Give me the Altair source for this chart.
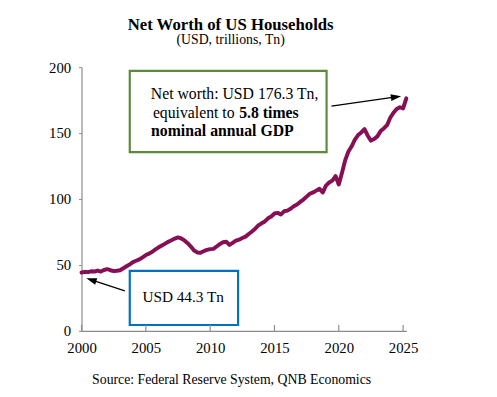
import altair as alt
import pandas as pd

FONT = "Liberation Serif, Times New Roman, serif"
LINE_COLOR = "#870F54"
AXIS_COLOR = "#8C8C8C"

# Household net worth, USD trillions, quarterly 2000Q1 .. 2025Q2
net_worth = [
    44.3, 44.8, 44.6, 45.2,   # 2000
    45.0, 45.8, 45.0, 46.2,   # 2001
    46.8, 46.0, 45.3, 45.6,   # 2002
    46.0, 47.5, 49.0, 50.5,   # 2003
    52.2, 53.2, 54.2, 55.8,   # 2004
    57.5, 58.6, 60.0, 61.8,   # 2005
    63.4, 64.8, 66.2, 67.6,   # 2006
    68.8, 70.0, 70.9, 70.1,   # 2007
    68.6, 66.5, 64.0, 61.0,   # 2008
    59.5, 59.2, 60.5, 61.4,   # 2009
    62.0, 62.2, 64.0, 65.8,   # 2010
    67.2, 67.6, 65.2, 66.8,   # 2011
    68.4, 69.2, 70.4, 71.5,   # 2012
    73.5, 75.4, 77.5, 80.0,   # 2013
    81.6, 83.0, 85.4, 86.8,   # 2014
    89.0, 89.5, 88.3, 90.7,   # 2015
    91.2, 92.6, 94.5, 95.8,   # 2016
    97.8, 99.6, 101.8, 104.0, # 2017
    105.0, 106.4, 107.8, 104.9,  # 2018
    110.2, 112.5, 114.0, 117.4,  # 2019
    111.0, 120.0, 129.5, 136.0,  # 2020
    140.0, 145.0, 148.5, 150.5,  # 2021
    153.0, 148.0, 144.3, 145.5,  # 2022
    147.5, 151.5, 153.5, 156.0,  # 2023
    161.6, 165.4, 168.3, 169.6,  # 2024
    168.7, 176.3,                # 2025
]
start_year = 2000
x_ticks = [2000, 2005, 2010, 2015, 2020, 2025]
y_ticks = [0, 25, 50, 75, 100, 125, 150, 175, 200]

title_text = "Net Worth of US Households"
subtitle_text = "(USD, trillions, Tn)"
source_text = "Source: Federal Reserve System, QNB Economics"

# annotation boxes (in data units)
box_x = [2003.75, 2003.75]
box_x2 = [2019.05, 2012.17]
box_y = [135.5, 4.5]
box_y2 = [197.2, 45.5]
box_colors = ["#5A8A3A", "#0070C0"]

# annotation text pieces
reg_center_text = ["Net worth: USD 176.3 Tn,", "USD 44.3 Tn"]
reg_center_x = [2011.9, 2007.9]
reg_center_y = [175.8, 21.9]
reg_center_size = [16, 15.5]

bold_center_text = ["nominal annual GDP"]
bold_center_x = [2010.95]
bold_center_y = [147.8]

reg_right_text = ["equivalent to"]
reg_right_x = [2011.9]
reg_right_y = [161.6]

bold_left_text = ["5.8 times"]
bold_left_x = [2012.26]
bold_left_y = [161.6]

# arrows: tail -> head centre, and head rotation
arrow_x = [2003.37, 2019.43]
arrow_y = [30.3, 170.4]
arrow_x2 = [2000.76, 2024.45]
arrow_y2 = [38.7, 177.4]
arrow_angle = [288.3, 81.9]

df = pd.DataFrame({
    "t": [start_year + i / 4 for i in range(len(net_worth))],
    "v": net_worth,
})

xscale = alt.Scale(domain=[2000, 2025.25], nice=False, zero=False)
yscale = alt.Scale(domain=[0, 200], nice=False, zero=True)

line = alt.Chart(df).mark_line(
    color=LINE_COLOR, strokeWidth=4, strokeJoin="round", strokeCap="round"
).encode(
    x=alt.X("t:Q", scale=xscale, axis=alt.Axis(
        values=x_ticks, format="d", ticks=False, tickSize=0, labelPadding=10,
        labelFlush=False, labelOverlap=False,
        grid=False, domainColor=AXIS_COLOR, domainWidth=1.2,
        labelFont=FONT, labelFontSize=15, labelColor="black",
        title=source_text, titleFont=FONT, titleFontSize=14,
        titleFontWeight="normal", titleColor="black",
        titleX=152, titleY=53, titleAlign="center", titleBaseline="alphabetic",
        titleAnchor="start",
    )),
    y=alt.Y("v:Q", scale=yscale, axis=alt.Axis(
        values=y_ticks, tickSize=3, tickColor=AXIS_COLOR, labelPadding=8,
        labelFlush=False, labelOverlap=False,
        grid=False, domainColor=AXIS_COLOR, domainWidth=1.2,
        labelFont=FONT, labelFontSize=15, labelColor="black", title=None,
    )),
)

xt = alt.Chart(pd.DataFrame({"t": x_ticks})).mark_rule(
    color=AXIS_COLOR, strokeWidth=1.2
).encode(x=alt.X("t:Q", scale=xscale), y=alt.value(268), y2=alt.value(262))

boxes = alt.Chart(pd.DataFrame({
    "x": box_x, "x2": box_x2, "y": box_y, "y2": box_y2, "c": box_colors
})).mark_rect(fill="white", strokeWidth=2.2).encode(
    x=alt.X("x:Q", scale=xscale), x2="x2:Q",
    y=alt.Y("y:Q", scale=yscale), y2="y2:Q",
    stroke=alt.Stroke("c:N", scale=None),
)

def text_layer(texts, xs, ys, weight, align, size=16, sizes=None):
    d = pd.DataFrame({"x": xs, "y": ys, "s": texts,
                      "fs": sizes if sizes is not None else [size] * len(texts)})
    return alt.Chart(d).mark_text(
        font=FONT, fontWeight=weight, align=align, baseline="alphabetic",
        color="black"
    ).encode(
        x=alt.X("x:Q", scale=xscale), y=alt.Y("y:Q", scale=yscale),
        text="s:N", size=alt.Size("fs:Q", scale=None, legend=None),
    )

t1 = text_layer(reg_center_text, reg_center_x, reg_center_y, "normal", "center",
                sizes=reg_center_size)
t2 = text_layer(bold_center_text, bold_center_x, bold_center_y, "bold", "center")
t3 = text_layer(reg_right_text, reg_right_x, reg_right_y, "normal", "right")
t4 = text_layer(bold_left_text, bold_left_x, bold_left_y, "bold", "left")

arrows_df = pd.DataFrame({"x": arrow_x, "y": arrow_y, "x2": arrow_x2,
                          "y2": arrow_y2, "a": arrow_angle})
arrow_lines = alt.Chart(arrows_df).mark_rule(color="black", strokeWidth=1.3).encode(
    x=alt.X("x:Q", scale=xscale), y=alt.Y("y:Q", scale=yscale),
    x2="x2:Q", y2="y2:Q",
)
arrow_heads = alt.Chart(arrows_df).mark_point(
    shape="M0,-1L0.65,1L-0.65,1Z", filled=True, color="black", opacity=1,
    size=110, strokeWidth=0
).encode(
    x=alt.X("x2:Q", scale=xscale), y=alt.Y("y2:Q", scale=yscale),
    angle=alt.Angle("a:Q", scale=None),
)

chart = alt.layer(
    boxes, xt, line, arrow_lines, arrow_heads, t1, t2, t3, t4
).properties(
    width=330, height=268,
    autosize=alt.AutoSizeParams(type="none"),
    padding={"left": 74.7, "top": 57, "right": 84, "bottom": 60},
    title=alt.TitleParams(
        text=title_text, subtitle=subtitle_text,
        font=FONT, fontSize=17, fontWeight="bold", color="black",
        subtitleFont=FONT, subtitleFontSize=14, subtitleColor="black",
        subtitlePadding=0, anchor="middle", frame="group", dx=-13.5, offset=12,
    ),
).configure(
    font=FONT
).configure_view(stroke=None)

chart.save("out.html", embed_options={"renderer": "svg", "actions": False})
